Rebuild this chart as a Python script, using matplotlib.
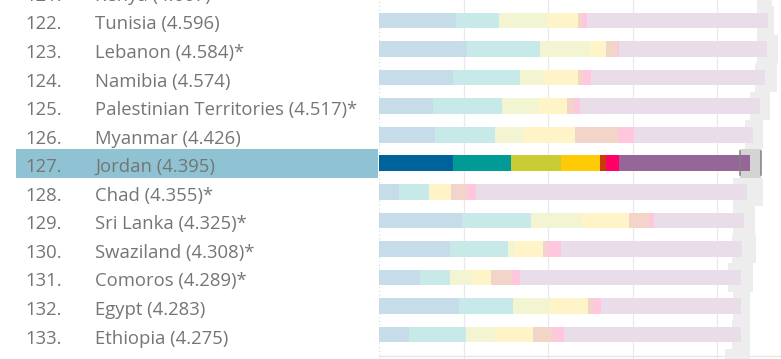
import numpy as np
import matplotlib
matplotlib.use("Agg")
import matplotlib.pyplot as plt
from matplotlib.colors import to_rgb
from matplotlib.transforms import blended_transform_factory

ranks = list(range(121, 135))
countries = ["Kenya", "Tunisia", "Lebanon", "Namibia", "Palestinian Territories",
             "Myanmar", "Jordan", "Chad", "Sri Lanka", "Swaziland", "Comoros",
             "Egypt", "Ethiopia", "Mauritania"]
scores = [4.607, 4.596, 4.584, 4.574, 4.517, 4.426, 4.395, 4.355, 4.325,
          4.308, 4.289, 4.283, 4.275, 4.227]
starred = [False, False, True, False, True, False, False, True, True, True,
           True, False, False, False]

# components for the visible rows (Tunisia .. Ethiopia)
gdp = [0.910, 1.036, 0.871, 0.642, 0.662, 0.875, 0.236, 0.985, 0.839, 0.485, 0.946, 0.355]
social = [0.512, 0.867, 0.796, 0.812, 0.709, 0.690, 0.355, 0.812, 0.690, 0.355, 0.642, 0.674]
health = [0.579, 0.591, 0.268, 0.429, 0.335, 0.587, 0.010, 0.599, 0.067, 0.276, 0.433, 0.343]
freedom = [0.347, 0.189, 0.414, 0.343, 0.611, 0.461, 0.248, 0.559, 0.347, 0.205, 0.453, 0.445]
generosity = [0.050, 0.126, 0.067, 0.079, 0.512, 0.071, 0.197, 0.240, 0.047, 0.248, 0.059, 0.244]
corruption = [0.060, 0.032, 0.087, 0.071, 0.185, 0.158, 0.102, 0.055, 0.162, 0.099, 0.091, 0.126]
dystopia = [2.140, 1.742, 2.061, 2.128, 1.403, 1.545, 3.207, 1.064, 2.143, 2.612, 1.655, 2.092]

ci_low = [4.47, 4.47, 4.47, 4.44, 4.39, 4.33, 4.27, 4.19, 4.19, 4.17, 4.13, 4.19, 4.17, 4.09]
ci_high = [4.65, 4.67, 4.72, 4.71, 4.62, 4.54, 4.52, 4.54, 4.44, 4.46, 4.42, 4.38, 4.38, 4.38]

highlight = "Jordan"
colors = ["#00629b", "#009b96", "#c8cc32", "#ffcb05", "#c83c0a", "#ff0066", "#976699"]


def fade(c, a=0.22):
    r = np.array(to_rgb(c))
    return tuple(1 - a * (1 - r))


fig = plt.figure(figsize=(7.81, 3.59), dpi=100)
W, H = 781, 359
ax = fig.add_axes([379 / W, 0, 1 - 379 / W, 1])
ax.set_xlim(0, 402 / 84.6)
ax.set_ylim(12.856, 0.282)
ax.axis("off")

# grid
for g in [1, 2, 3, 4]:
    ax.axvline(g, color="#e9e9e9", lw=0.9, zorder=0)
ax.axvline(0.004, color="#dddddd", lw=0.9, ls=(0, (1, 2)), zorder=0)
ax.axhline(12.74, color="#e6e6e6", lw=0.9, zorder=0)

comps = [gdp, social, health, freedom, generosity, corruption, dystopia]
for i, name in enumerate(countries):
    y = i
    hl = name == highlight
    # confidence whisker
    ax.add_patch(plt.Rectangle((ci_low[i], y - 0.5), ci_high[i] - ci_low[i], 1.0,
                               facecolor="#d4d4d4" if hl else "#ededed",
                               edgecolor="none", zorder=1))
    if hl:
        for xv in (ci_low[i], ci_high[i]):
            ax.plot([xv, xv], [y - 0.42, y + 0.42], color="#808080", lw=1.1, zorder=4)
    if 1 <= i <= 12:
        left = 0.0
        for vals, c in zip(comps, colors):
            v = vals[i - 1]
            ax.barh(y, v, left=left, height=0.55, color=c if hl else fade(c),
                    edgecolor="none", zorder=2)
            left += v

# labels
tr = blended_transform_factory(fig.transFigure, ax.transData)
jy = countries.index(highlight)
ax.add_patch(plt.Rectangle((16 / W, jy - 0.5), (378 - 16) / W, 1.0, transform=tr,
                           facecolor="#8fc3d3", edgecolor="none", clip_on=False, zorder=0))
for i, (r, name, s, st) in enumerate(zip(ranks, countries, scores, starred)):
    ax.text(25 / W, i + 0.14, f"{r}.", transform=tr, ha="left", va="center",
            fontsize=13.3, color="#757575", family="Open Sans", clip_on=False)
    ax.text(95 / W, i + 0.14, f"{name} ({s:.3f})" + ("*" if st else ""), transform=tr,
            ha="left", va="center", fontsize=13.3, color="#757575",
            family="Open Sans", clip_on=False)

fig.savefig("out.png", dpi=100)
